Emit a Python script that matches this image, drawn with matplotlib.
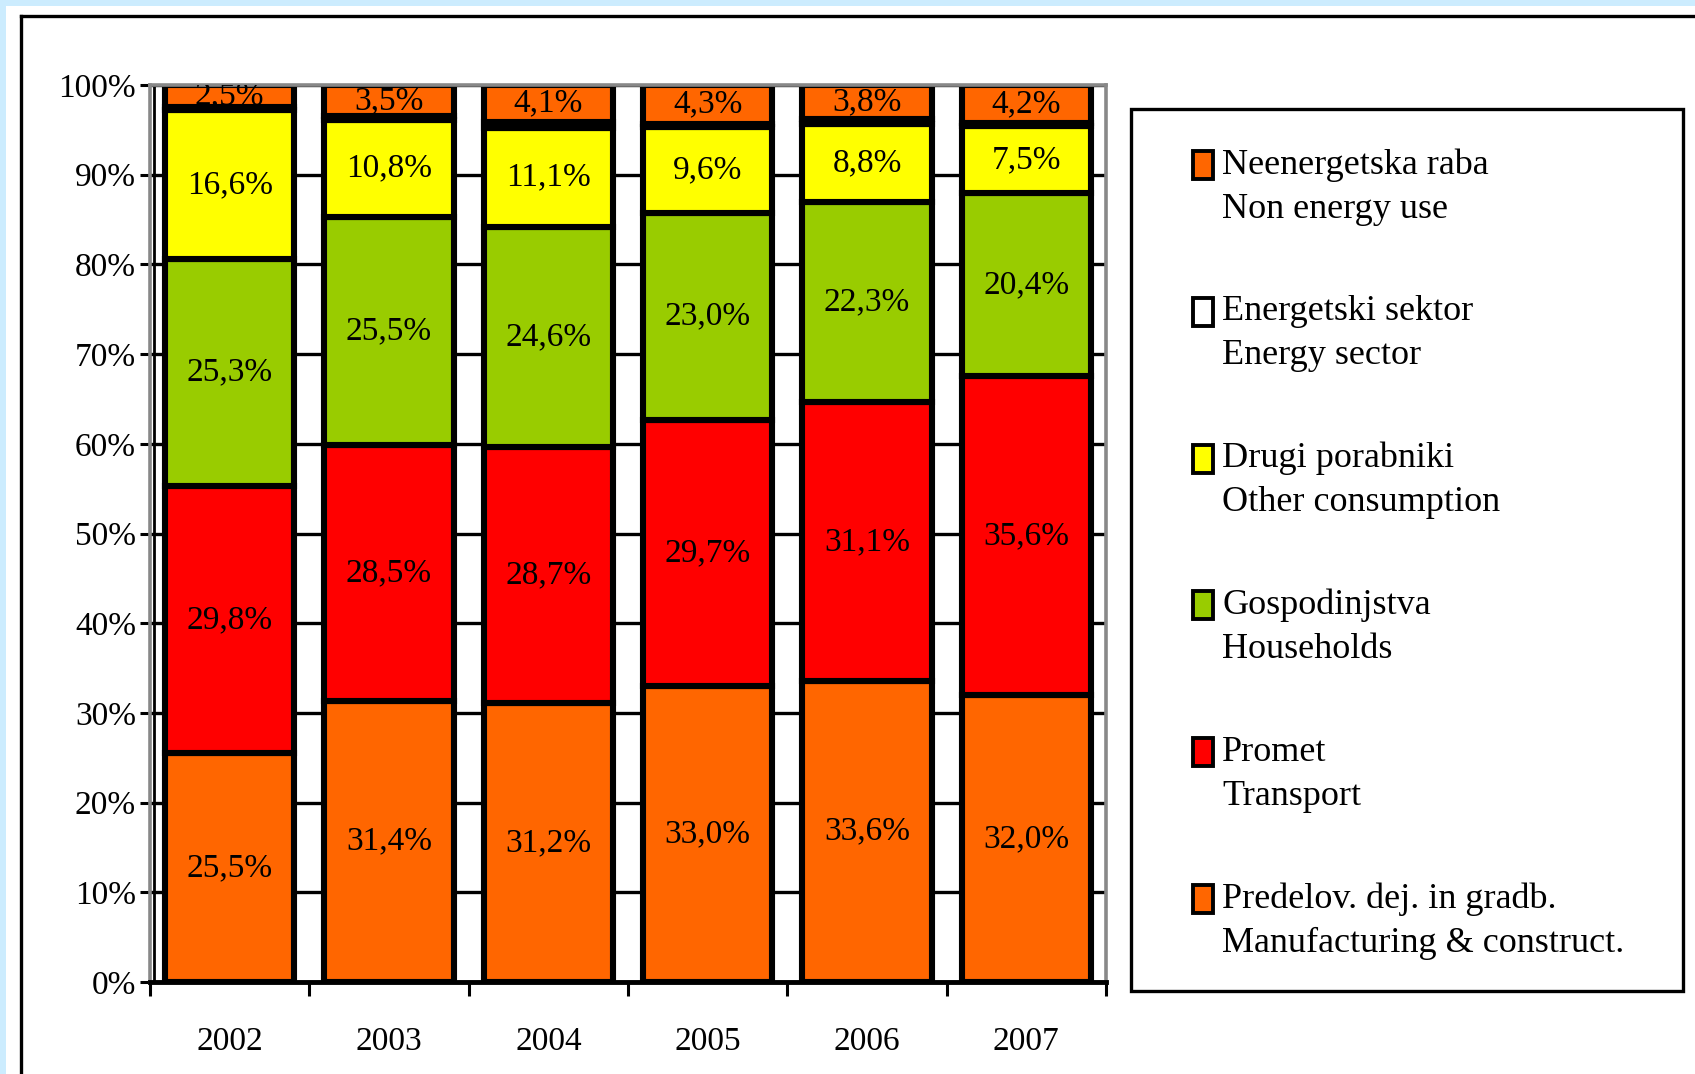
import matplotlib
matplotlib.use("Agg")
import matplotlib.pyplot as plt
from matplotlib.patches import Rectangle
from matplotlib.lines import Line2D
import numpy as np

plt.rcParams['font.family'] = ['Liberation Serif', 'DejaVu Serif']

years = ['2002', '2003', '2004', '2005', '2006', '2007']
manufacturing = [25.5, 31.4, 31.2, 33.0, 33.6, 32.0]
transport = [29.8, 28.5, 28.7, 29.7, 31.1, 35.6]
households = [25.3, 25.5, 24.6, 23.0, 22.3, 20.4]
other = [16.6, 10.8, 11.1, 9.6, 8.8, 7.5]
energy_sector = [0.3, 0.4, 0.7, 0.4, 0.5, 0.4]
non_energy = [2.5, 3.5, 4.1, 4.3, 3.8, 4.2]

series = [manufacturing, transport, households, other, energy_sector, non_energy]
names = ['Predelov. dej. in gradb.\nManufacturing & construct.',
         'Promet\nTransport',
         'Gospodinjstva\nHouseholds',
         'Drugi porabniki\nOther consumption',
         'Energetski sektor\nEnergy sector',
         'Neenergetska raba\nNon energy use']
colors = ['#FF6600', '#FF0000', '#99CC00', '#FFFF00', '#FFFFFF', '#FF6600']
show_label = [True, True, True, True, False, True]
yticks = [0, 10, 20, 30, 40, 50, 60, 70, 80, 90, 100]
ytick_labels = [f'{t}%' for t in yticks]

W, H = 1695, 1074
fig = plt.figure(figsize=(W / 100, H / 100), dpi=100)
fig.patch.set_facecolor('#CCECFE')

def fx(x):
    return x / W

def fy(y):
    return 1 - y / H

# white panel and black frame
fig.add_artist(Rectangle((fx(6), 0), 1 - fx(6), fy(6), transform=fig.transFigure,
                         facecolor='white', edgecolor='none', zorder=0))
fig.add_artist(Line2D([fx(21), 1], [fy(16), fy(16)], transform=fig.transFigure,
                      color='black', lw=2.4))
fig.add_artist(Line2D([fx(21), fx(21)], [0, fy(16)], transform=fig.transFigure,
                      color='black', lw=2.4))

left, right, top, bottom = 150, 1106, 85, 982
ax = fig.add_axes([fx(left), fy(bottom), fx(right - left), (bottom - top) / H])
ax.set_facecolor('white')

data = np.array(series, dtype=float)
totals = data.sum(axis=0)
norm = data / totals * 100.0
x = np.arange(len(years))
bottoms = np.zeros(len(years))
for i, (vals, col) in enumerate(zip(norm, colors)):
    ax.bar(x, vals, width=0.81, bottom=bottoms, color=col, edgecolor='black',
           linewidth=4.4, zorder=3)
    if show_label[i]:
        for j in range(len(years)):
            txt = f'{data[i][j]:.1f}'.replace('.', ',') + '%'
            ax.text(x[j], bottoms[j] + vals[j] / 2, txt, ha='center', va='center',
                    fontsize=24, color='black', zorder=5, clip_on=True)
    bottoms += vals

ax.set_xlim(-0.5, len(years) - 0.5)
ax.set_ylim(0, 100)
ax.set_yticks(yticks)
ax.set_yticklabels(ytick_labels, fontsize=24)
ax.yaxis.grid(True, color='black', linewidth=2.4, zorder=1, solid_capstyle='butt')
ax.set_axisbelow(True)
ax.tick_params(axis='y', length=7, width=2.2, color='black', pad=3)
ax.axvline(-0.475, color='black', linewidth=2.0, zorder=2)

ax.set_xticks(x)
ax.set_xticklabels(years, fontsize=24)
ax.set_xticks(np.arange(-0.5, len(years)), minor=True)
ax.tick_params(axis='x', which='major', length=0, pad=32)
ax.tick_params(axis='x', which='minor', length=10, width=2.2, color='black', direction='out')

for s in ['left', 'top', 'right']:
    ax.spines[s].set_color('#888888')
    ax.spines[s].set_linewidth(2.6)
    ax.spines[s].set_zorder(4)
ax.spines['bottom'].set_color('black')
ax.spines['bottom'].set_linewidth(3.5)
ax.spines['bottom'].set_zorder(6)

# legend box (manual, reversed order)
lx0, lx1, ly0, ly1 = 1131, 1683, 109, 991
fig.add_artist(Rectangle((fx(lx0), fy(ly1)), fx(lx1 - lx0), (ly1 - ly0) / H,
                         transform=fig.transFigure, facecolor='white',
                         edgecolor='black', linewidth=2.4, zorder=2))
y_first = 165
step = 146.8
for k, idx in enumerate(range(len(names) - 1, -1, -1)):
    yc = y_first + k * step
    fig.add_artist(Rectangle((fx(1193), fy(yc + 14)), fx(20), 28 / H,
                             transform=fig.transFigure, facecolor=colors[idx],
                             edgecolor='black', linewidth=2.8, zorder=3))
    l1, l2 = names[idx].split('\n')
    fig.text(fx(1222), fy(yc), l1, fontsize=26, ha='left', va='center', zorder=4)
    fig.text(fx(1222), fy(yc + 44), l2, fontsize=26, ha='left', va='center', zorder=4)

fig.savefig('out.png', dpi=100, facecolor=fig.get_facecolor())
